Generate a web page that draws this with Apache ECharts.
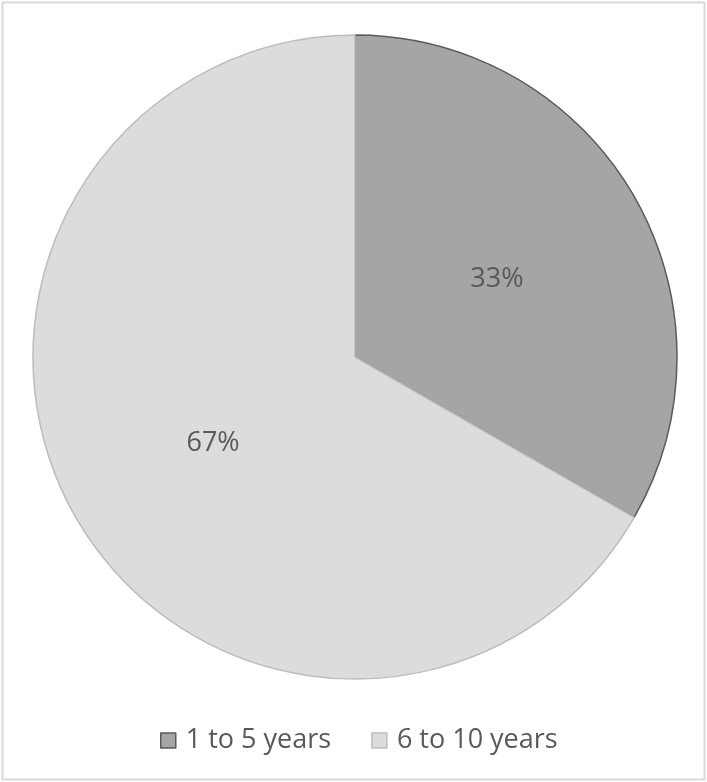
<!DOCTYPE html>
<html><head><meta charset="utf-8">
<script src="https://cdn.jsdelivr.net/npm/echarts@6/dist/echarts.min.js"></script>
<style>html,body{margin:0;padding:0;background:#fff}#c{width:707px;height:782px}</style>
</head><body><div id="c"></div>
<script>
var categories = ['1 to 5 years', '6 to 10 years'];
var values = [33.3, 66.7];
var colors = ['#a5a5a5', '#dcdcdc'];
var borders = ['#5a5a5a', '#bdbdbd'];

var chart = echarts.init(document.getElementById('c'), null, {renderer: 'canvas'});
chart.setOption({
  backgroundColor: '#fff',
  animation: false,
  graphic: [{type: 'rect', shape: {x: 2.5, y: 2.5, width: 702, height: 777}, style: {fill: 'none', stroke: '#d9d9d9', lineWidth: 2}}],
  legend: {
    top: 727, left: 160, padding: 0, itemWidth: 15, itemHeight: 15, itemGap: 40,
    icon: 'rect',
    textStyle: {fontFamily: 'Open Sans', fontSize: 27, color: '#595959', padding: [0, 0, 0, 5]},
    data: categories.map(function (c, i) { return {name: c, itemStyle: {color: colors[i], borderColor: borders[i], borderWidth: 1.5}}; })
  },
  series: [{
    type: 'pie', center: [355, 357], radius: 322, startAngle: 90, clockwise: true,
    label: {position: 'inside', fontFamily: 'Open Sans', fontSize: 27, color: '#595959', offset: [0, 4],
      formatter: function (p) { return Math.round(p.percent) + '%'; }},
    labelLine: {show: false},
    data: categories.map(function (c, i) {
      return {name: c, value: values[i], itemStyle: {color: colors[i], borderColor: borders[i], borderWidth: 1.5}};
    })
  }]
});
</script></body></html>
